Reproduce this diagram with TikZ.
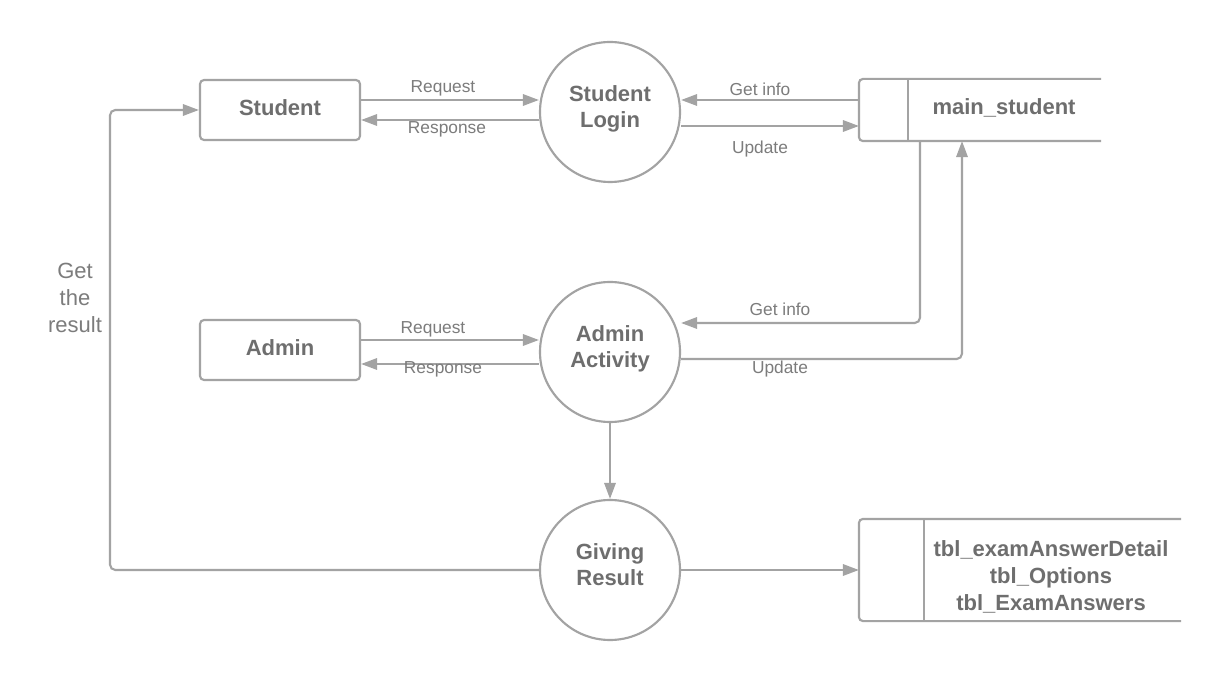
\documentclass[tikz,border=0pt]{standalone}
\usepackage{fontspec}
\setmainfont{Liberation Sans}
\usetikzlibrary{arrows.meta}
\definecolor{lineg}{HTML}{A3A3A3}
\definecolor{textg}{HTML}{6E6E6E}
\definecolor{lblg}{HTML}{7C7C7C}
\begin{document}
\begin{tikzpicture}[x=0.75pt,y=-0.75pt,
  every path/.style={line width=1.6pt, draw=lineg},
  entity/.style={draw=lineg, rounded corners=3pt, minimum width=120pt, minimum height=45pt, inner sep=0pt,
    text depth=3pt, font=\fontsize{16.5}{19.5}\selectfont\bfseries, text=textg},
  proc/.style={draw=lineg, circle, minimum size=105pt, inner sep=0pt, align=center, text depth=8pt,
    font=\fontsize{16.5}{19.5}\selectfont\bfseries, text=textg},
  storearea/.style={draw=none, inner sep=0pt},
  storetext/.style={align=center, inner sep=0pt, font=\fontsize{16.5}{20.25}\selectfont\bfseries, text=textg},
  lbl/.style={inner sep=0pt, font=\fontsize{13}{15}\selectfont, text=lblg},
  arr/.style={-{Triangle[length=12pt,width=8.5pt]}, draw=lineg, fill=none},
]
\useasboundingbox[fill=white, draw=none] (0,0) rectangle (1220,680);

% nodes
\node[entity] (st) at (280,110) {Student};
\node[entity] (ad) at (280,350) {Admin};
\node[proc] (sl) at (610,112) {Student\\Login};
\node[proc] (aa) at (610,352) {Admin\\Activity};
\node[proc] (gr) at (610,570) {Giving\\Result};
\node[storearea, minimum width=180pt, minimum height=45pt] (ms) at (980,110) {};
\node[storearea, minimum width=240pt, minimum height=75pt] (tb) at (1020,570) {};

% data stores
\draw[rounded corners=3pt] (ms.north east) -- (ms.north west) -- (ms.south west) -- (ms.south east);
\draw (ms.north west -| 908,0) -- (ms.south west -| 908,0);
\node[storetext] (mst) at (1004,108) {main\_student};
\draw[rounded corners=3pt] (tb.north east) -- (tb.north west) -- (tb.south west) -- (tb.south east);
\draw (tb.north west -| 924,0) -- (tb.south west -| 924,0);
\node[storetext] (tbt) at (1051,577) {tbl\_examAnswerDetail\\tbl\_Options\\tbl\_ExamAnswers};

% student <-> login
\draw[arr] (st.east |- 0,100) -- (sl.west |- 0,100);
\node[lbl] at (443,88) {Request};
\draw[arr] (sl.west |- 0,120) -- (st.east |- 0,120);
\node[lbl] at (447,129) {Response};

% login <-> main_student
\draw[arr] (ms.west |- 0,100) -- (sl.east |- 0,100);
\node[lbl] at (760,89) {Get info};
\draw[arr] (sl.east |- 0,126) -- (ms.west |- 0,126);
\node[lbl] at (760,149) {Update};

% admin <-> activity
\draw[arr] (ad.east |- 0,340) -- (aa.west |- 0,340);
\node[lbl] at (433,329) {Request};
\draw[arr] (aa.west |- 0,364) -- (ad.east |- 0,364);
\node[lbl] at (443,369) {Response};

% main_student <-> activity
\draw[arr, rounded corners=4pt] (ms.south west -| 920,0) |- (aa.east |- 0,323);
\node[lbl] at (780,309) {Get info};
\draw[arr, rounded corners=4pt] (aa.east |- 0,359) -| (ms.south west -| 962,0);
\node[lbl] at (780,369) {Update};

% activity -> giving result
\draw[arr] (aa.south) -- (gr.north);
% giving result -> tables
\draw[arr] (gr.east) -- (tb.west);
% giving result -> student
\coordinate (gl) at (110,110);
\draw[arr, rounded corners=4pt] (gr.west) -| (gl) -- (st.west);
\node[lbl, align=center, font=\fontsize{16.5}{20.25}\selectfont] at (75,298) {Get\\the\\result};
\end{tikzpicture}
\end{document}
